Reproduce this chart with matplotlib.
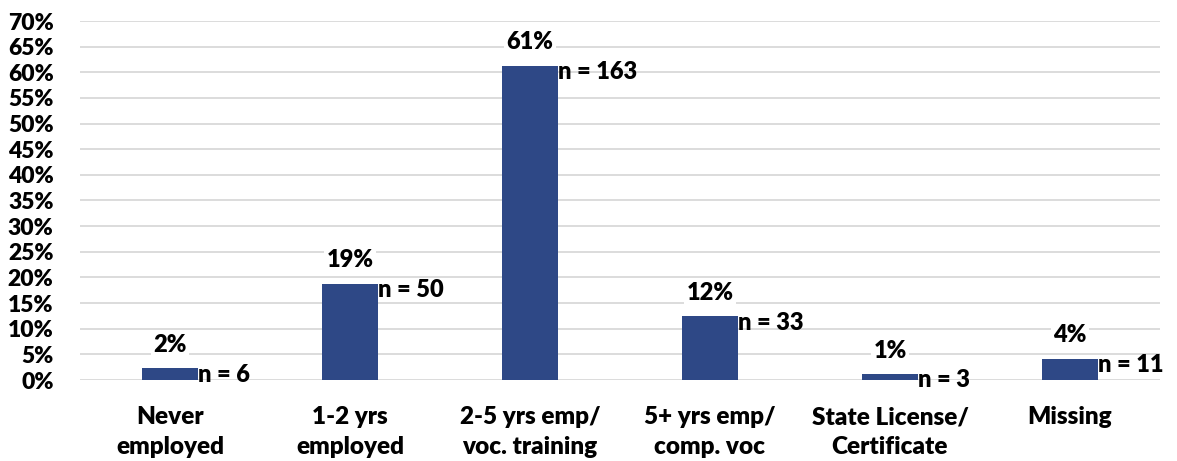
import matplotlib
matplotlib.use("Agg")
import matplotlib.pyplot as plt
from matplotlib.ticker import MultipleLocator, FuncFormatter

categories = ["Never\nemployed", "1-2 yrs\nemployed", "2-5 yrs emp/\nvoc. training",
              "5+ yrs emp/\ncomp. voc", "State License/\nCertificate", "Missing"]
percents = [2.26, 18.80, 61.28, 12.41, 1.13, 4.14]
counts = [6, 50, 163, 33, 3, 11]
pct_labels = ["2%", "19%", "61%", "12%", "1%", "4%"]

plt.rcParams['font.family'] = ['Lato', 'DejaVu Sans']
W = 'heavy'

fig = plt.figure(figsize=(11.77, 4.61), dpi=100)
ax = fig.add_axes([80/1177, 81/461, 1080/1177, 359/461])

x = list(range(len(categories)))
bar_w = 0.31
bars = ax.bar(x, percents, width=bar_w, color="#2E4886", zorder=3)

ax.set_xlim(-0.5, len(categories) - 0.5)
ax.set_ylim(0, 70)
ax.yaxis.set_major_locator(MultipleLocator(5))
ax.yaxis.set_major_formatter(FuncFormatter(lambda v, p: f"{int(round(v))}%"))
ax.grid(axis='y', color="#D9D9D9", linewidth=1.3, zorder=0)
ax.set_axisbelow(True)
for s in ax.spines.values():
    s.set_visible(False)

ax.set_xticks(x)
ax.set_xticklabels(categories, fontsize=17.5, fontweight=W, linespacing=1.45)
ax.tick_params(axis='x', length=0, pad=19)
ax.tick_params(axis='y', length=0, pad=19, labelsize=16.5)
for t in ax.get_yticklabels():
    t.set_fontweight(W)

for xi, p, n, lab in zip(x, percents, counts, pct_labels):
    ax.annotate(lab, (xi, p), xytext=(0, 9), textcoords='offset points',
                ha='center', va='bottom', fontsize=17, fontweight=W,
                bbox=dict(facecolor='white', edgecolor='none', pad=1.5), zorder=4)
    ax.annotate(f"n = {n}", (xi + bar_w / 2, p), xytext=(0, -4.5), textcoords='offset points',
                ha='left', va='center', fontsize=17, fontweight=W, zorder=4)

fig.savefig("out.png", dpi=100)
